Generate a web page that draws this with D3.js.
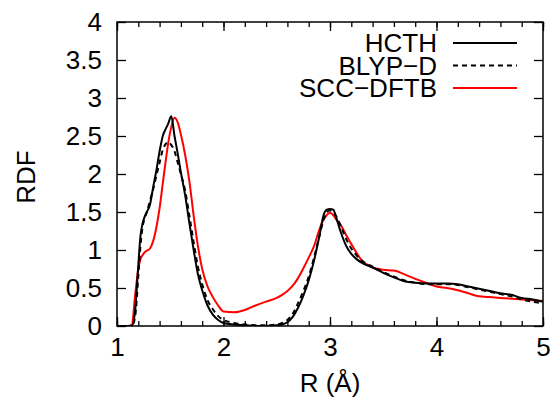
<!DOCTYPE html>
<html><head><meta charset="utf-8">
<script src="https://cdn.jsdelivr.net/npm/d3@7"></script>
<style>
html,body{margin:0;padding:0;background:#fff;}
svg text{font-family:"Liberation Sans",Arial,Helvetica,sans-serif;fill:#000;}
</style></head>
<body><svg id="c" width="556" height="398"></svg>
<script>
const R = [1.0,1.1,1.14,1.17,1.2,1.22,1.24,1.26,1.28,1.31,1.34,1.37,1.4,1.43,1.46,1.48,1.51,1.54,1.57,1.6,1.64,1.68,1.72,1.76,1.8,1.85,1.9,1.95,2.0,2.1,2.2,2.3,2.4,2.5,2.55,2.6,2.65,2.7,2.75,2.8,2.85,2.9,2.94,2.97,3.0,3.03,3.06,3.1,3.15,3.2,3.25,3.3,3.4,3.5,3.6,3.7,3.8,3.9,4.0,4.1,4.2,4.3,4.4,4.5,4.6,4.7,4.8,4.9,5.0];
const hcth = [0,0,0.0,0.2,0.8,1.18,1.35,1.44,1.5,1.6,1.83,2.05,2.3,2.5,2.6,2.66,2.76,2.5,2.27,2.02,1.72,1.35,1.0,0.68,0.47,0.27,0.15,0.08,0.04,0.02,0.01,0.0,0.0,0.01,0.02,0.05,0.12,0.24,0.40,0.6,0.86,1.18,1.46,1.53,1.54,1.53,1.42,1.24,1.06,0.95,0.88,0.83,0.77,0.7,0.64,0.59,0.57,0.56,0.56,0.56,0.55,0.52,0.49,0.46,0.43,0.41,0.37,0.35,0.32];
const blyp = [0,0,0.0,0.12,0.65,1.05,1.3,1.42,1.5,1.65,1.8,1.98,2.15,2.32,2.4,2.42,2.38,2.3,2.15,2.0,1.78,1.45,1.1,0.78,0.55,0.34,0.22,0.13,0.08,0.04,0.02,0.01,0.01,0.02,0.04,0.08,0.16,0.3,0.46,0.65,0.9,1.18,1.4,1.5,1.52,1.5,1.44,1.32,1.15,1.02,0.93,0.86,0.78,0.71,0.65,0.6,0.57,0.55,0.55,0.55,0.54,0.51,0.48,0.45,0.42,0.39,0.35,0.32,0.3];
const dftb = [0,0,0.02,0.4,0.75,0.88,0.93,0.97,0.99,1.02,1.12,1.3,1.55,1.88,2.2,2.4,2.62,2.74,2.68,2.52,2.25,1.9,1.45,1.05,0.75,0.52,0.38,0.27,0.19,0.18,0.21,0.27,0.32,0.37,0.41,0.46,0.53,0.63,0.76,0.9,1.05,1.27,1.4,1.46,1.49,1.46,1.4,1.33,1.2,1.08,0.96,0.86,0.77,0.74,0.73,0.68,0.62,0.57,0.52,0.5,0.47,0.43,0.39,0.38,0.37,0.36,0.35,0.34,0.33];
const seriesNames = ["HCTH","BLYP\u2212D","SCC\u2212DFTB"];
const xTicks = [1,2,3,4,5];
const yTicks = [0,0.5,1,1.5,2,2.5,3,3.5,4];

const svg = d3.select("#c");
const L=117, Rt=543, T=22, B=326;
const x = d3.scaleLinear().domain([1,5]).range([L,Rt]);
const y = d3.scaleLinear().domain([0,4]).range([B,T]);

const defs = svg.append("defs");
defs.append("clipPath").attr("id","clip").append("rect").attr("x",L).attr("y",T).attr("width",Rt-L).attr("height",B-T);

const series = [
  {name:seriesNames[0], vals:hcth, color:"#000", dash:null},
  {name:seriesNames[1], vals:blyp, color:"#000", dash:"5,4"},
  {name:seriesNames[2], vals:dftb, color:"#f00", dash:null}
];
const line = d3.line().x((d,i)=>x(R[i])).y(d=>y(d)).curve(d3.curveMonotoneX);
const g = svg.append("g").attr("clip-path","url(#clip)");
series.slice().reverse().forEach(s=>{
  g.append("path").attr("d",line(s.vals)).attr("fill","none").attr("stroke",s.color)
   .attr("stroke-width",2).attr("stroke-dasharray",s.dash);
});

// axes
const fs = 26;
const xMinor = d3.range(1,5.0001,0.2).map(v=>+v.toFixed(1));
svg.append("g").attr("transform",`translate(0,${B})`).call(d3.axisBottom(x).tickValues(xTicks).tickSize(-9).tickPadding(12).tickFormat(d3.format("d")));
svg.append("g").attr("transform",`translate(0,${B})`).call(d3.axisBottom(x).tickValues(xMinor).tickSize(-5).tickFormat(""));
svg.append("g").attr("transform",`translate(0,${T})`).call(d3.axisTop(x).tickValues(xMinor).tickSize(-5).tickFormat(""));
svg.append("g").attr("transform",`translate(0,${T})`).call(d3.axisTop(x).tickValues(xTicks).tickSize(-9).tickFormat(""));
svg.append("g").attr("transform",`translate(${L},0)`).call(d3.axisLeft(y).tickValues(yTicks).tickSize(-9).tickPadding(15).tickFormat(d=>String(d)));
svg.append("g").attr("transform",`translate(${Rt},0)`).call(d3.axisRight(y).tickValues(yTicks).tickSize(-9).tickFormat(""));
svg.selectAll(".domain").remove();
svg.selectAll(".tick line").attr("stroke","#000").attr("stroke-width",1.3);
svg.selectAll(".tick text").attr("font-size",fs).attr("font-family","Liberation Sans, Arial, sans-serif").attr("fill","#000");
svg.append("rect").attr("x",L).attr("y",T).attr("width",Rt-L).attr("height",B-T).attr("fill","none").attr("stroke","#000").attr("stroke-width",1.5);

// labels
svg.append("text").attr("x",330).attr("y",392).attr("text-anchor","middle").attr("font-size",fs).text("R (\u00c5)");
svg.append("text").attr("transform","translate(35,177) rotate(-90)").attr("text-anchor","middle").attr("font-size",fs).text("RDF");

// legend
const lg = svg.append("g");
series.forEach((s,i)=>{
  const yy = 43 + i*22.5;
  lg.append("text").attr("x",437).attr("y",yy+9).attr("text-anchor","end").attr("font-size",fs).text(s.name);
  lg.append("line").attr("x1",453).attr("x2",517).attr("y1",yy).attr("y2",yy).attr("stroke",s.color).attr("stroke-width",2).attr("stroke-dasharray",s.dash);
});
</script></body></html>
